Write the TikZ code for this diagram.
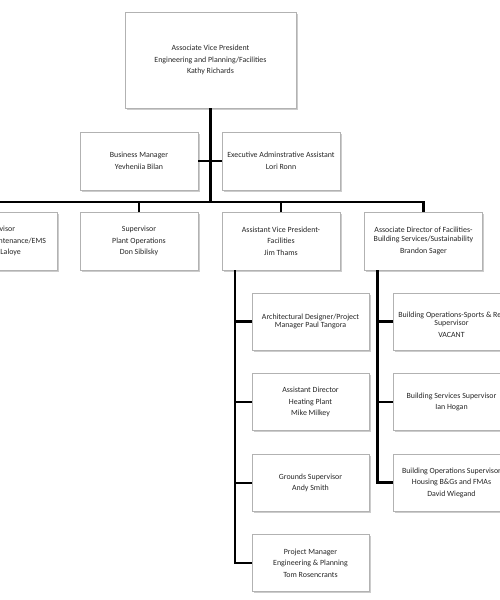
\documentclass[tikz,border=0pt]{standalone}
\usepackage{fontspec}
\setmainfont{Carlito}
\usetikzlibrary{positioning,calc,shadows}

\begin{document}
\begin{tikzpicture}[x=1pt,y=-1pt,
	rolebox/.style={draw=gray!60, fill=white, line width=0.6pt, minimum width=118pt, minimum height=58pt,
		align=center, inner sep=2pt, outer sep=0pt, text=black!85, font=\fontsize{7.9}{11.5}\selectfont,
		drop shadow={shadow xshift=1.5pt, shadow yshift=-1.5pt, fill=black!40}},
	staffbox/.style={rolebox, minimum width=117pt, minimum height=57pt},
	link/.style={line width=2.4pt, black}]
	
	% page frame (picture is cut at both sides)
	\path[use as bounding box, clip] (0,0) rectangle (500,600);
	
	% Top
	\node[rolebox, minimum width=171pt, minimum height=96pt] (avpeng) at (210.5,60)
	{Associate Vice President\\Engineering and Planning/Facilities\\Kathy Richards};
	
	% Staff
	\node[rolebox] (busmgr) at (139,161) {Business Manager\\Yevheniia Bilan};
	\node[rolebox] (execasst) at (281,161) {Executive Adminstrative Assistant\\Lori Ronn};
	
	% Direct reports
	\node[rolebox] (maint) at (-2,241) {Supervisor\\\hspace*{4.6em}Maintenance/EMS\\\hspace*{3.2em}Laloye};
	\node[rolebox] (plantops) at (139,241) {Supervisor\\Plant Operations\\Don Sibilsky};
	\node[rolebox] (avp) at (281,241) {Assistant Vice President-\\Facilities\\Jim Thams};
	\node[rolebox] (assocdir) at (423.5,241)
	{Associate Director of Facilities-\\[-2.5pt]Building Services/Sustainability\\Brandon Sager};
	
	% Under the AVP
	\node[staffbox] (arch) at (310.5,321.5) {Architectural Designer/Project\\[-3pt]Manager Paul Tangora};
	\node[staffbox] (heating) at (310.5,402) {Assistant Director\\Heating Plant\\Mike Milkey};
	\node[staffbox] (grounds) at (310.5,483) {Grounds Supervisor\\Andy Smith};
	\node[staffbox] (projmgr) at (310.5,563) {Project Manager\\Engineering \& Planning\\Tom Rosencrants};
	
	% Under the associate director
	\node[staffbox] (sportsrec) at (451.5,321.5)
	{\\[0.5pt]Building Operations-Sports \& Rec\\[-3pt]Supervisor\\VACANT};
	\node[staffbox] (bldgsvc) at (451.5,402) {Building Services Supervisor\\Ian Hogan};
	\node[staffbox] (housing) at (451.5,482.5)
	{Building Operations Supervisor\\Housing B\&Gs and FMAs\\David Wiegand};
	
	% Connectors
	\coordinate (barlevel) at (0,202);
	\coordinate (hub) at (avpeng.south |- barlevel);
	\draw[link] (avpeng.south) -- (hub);
	\draw[link] (busmgr.east) -- (execasst.west);
	\draw[link] (maint.north) |- (hub) -| (assocdir.north);
	\draw[link] (plantops.north) -- (plantops.north |- hub);
	\draw[link] (avp.north) -- (avp.north |- hub);
	
	\coordinate (avpline) at ($(avp.south west)+(13,0)$);
	\draw[link] (avpline) |- (projmgr.west);
	\foreach \sub in {arch,heating,grounds}
	\draw[link] (avpline |- \sub.west) -- (\sub.west);
	
	\coordinate (adline) at ($(assocdir.south west)+(13,0)$);
	\draw[link] (adline) |- (housing.west);
	\foreach \sub in {sportsrec,bldgsvc}
	\draw[link] (adline |- \sub.west) -- (\sub.west);
	
\end{tikzpicture}
\end{document}
